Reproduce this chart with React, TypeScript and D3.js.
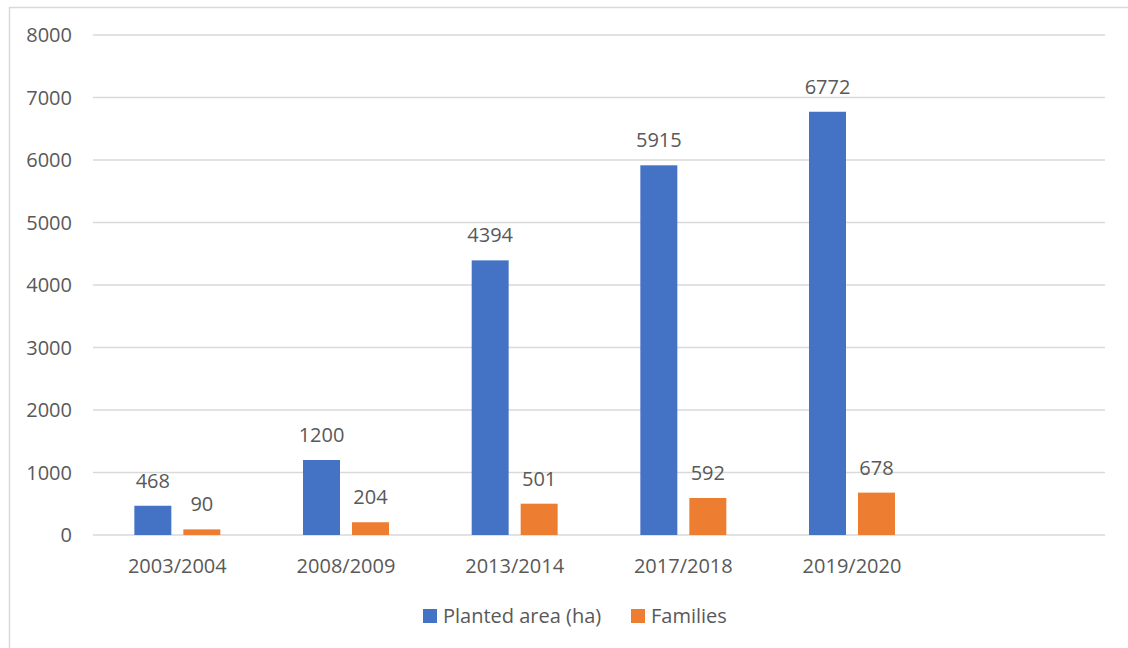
import React from "react";
import * as d3 from "d3";

const categories = ["2003/2004", "2008/2009", "2013/2014", "2017/2018", "2019/2020"];
const plantedArea = [468, 1200, 4394, 5915, 6772];
const families = [90, 204, 501, 592, 678];
const yTicks = [0, 1000, 2000, 3000, 4000, 5000, 6000, 7000, 8000];
const seriesNames = ["Planted area (ha)", "Families"];
const seriesColors = ["#4472C4", "#ED7D31"];

const W = 1128;
const H = 648;
const left = 93;
const right = 1105;
const top = 35;
const bottom = 535;
const step = (right - left) / 6;

export default function App() {
  const x = d3.scaleBand<string>().domain(categories).range([left, left + step * categories.length]).padding(0);
  const xSub = d3
    .scaleBand<string>()
    .domain(seriesNames)
    .range([0, x.bandwidth()])
    .paddingInner(0.245)
    .paddingOuter(0.844);
  const y = d3.scaleLinear().domain([0, 8000]).range([bottom, top]);
  const series = [plantedArea, families];
  const font = "'Open Sans', sans-serif";
  const textColor = "#595959";
  const fs = 20;

  return (
    <svg width={W} height={H} style={{ position: "absolute", left: 0, top: 0, background: "#fff" }} fontFamily={font}>
      <rect x={9.5} y={7.5} width={W + 10} height={H + 10} fill="#fff" stroke="#D9D9D9" strokeWidth={1.5} />
      {yTicks.map((t) => (
        <g key={t}>
          <line x1={left} x2={right} y1={y(t)} y2={y(t)} stroke="#D9D9D9" strokeWidth={1.5} />
          <text x={72} y={y(t)} dy="0.35em" textAnchor="end" fontSize={fs} fill={textColor}>
            {t}
          </text>
        </g>
      ))}
      {categories.map((c, i) => (
        <g key={c}>
          {series.map((s, j) => {
            const bx = (x(c) as number) + (xSub(seriesNames[j]) as number);
            const bw = xSub.bandwidth();
            return (
              <g key={j}>
                <rect x={bx} y={y(s[i])} width={bw} height={bottom - y(s[i])} fill={seriesColors[j]} />
                <text x={bx + bw / 2} y={y(s[i]) - 18} textAnchor="middle" fontSize={fs} fill={textColor}>
                  {s[i]}
                </text>
              </g>
            );
          })}
          <text x={(x(c) as number) + x.bandwidth() / 2} y={573} textAnchor="middle" fontSize={fs} fill={textColor}>
            {c}
          </text>
        </g>
      ))}
      <g>
        <rect x={423} y={609} width={14} height={14} fill={seriesColors[0]} />
        <text x={443} y={623} fontSize={fs} fill={textColor}>
          {seriesNames[0]}
        </text>
        <rect x={631} y={609} width={14} height={14} fill={seriesColors[1]} />
        <text x={651} y={623} fontSize={fs} fill={textColor}>
          {seriesNames[1]}
        </text>
      </g>
    </svg>
  );
}
